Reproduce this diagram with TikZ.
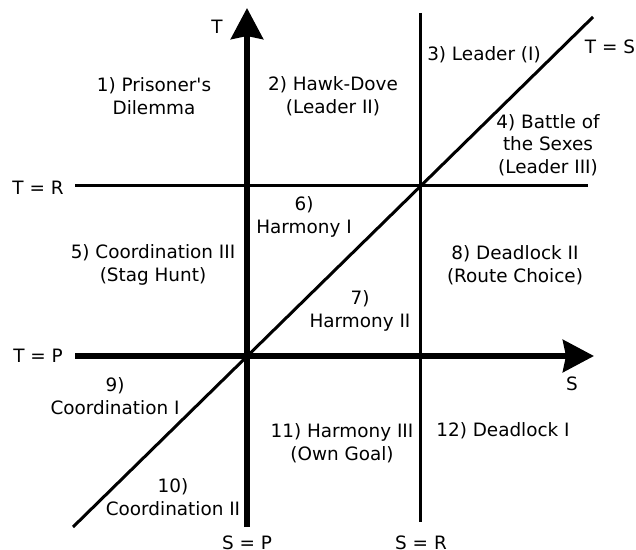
\documentclass[tikz,border=0pt]{standalone}
\usepackage{fontspec}
\setmainfont{DejaVu Sans}
\usetikzlibrary{arrows.meta}
\tikzset{
  lbl/.style={inner sep=0pt, align=center, font=\fontsize{18.4bp}{22.6bp}\selectfont},
  thinline/.style={line width=3bp},
  axis/.style={line width=6bp, -{Stealth[length=31bp,width=32bp,inset=3bp]}},
}
\begin{document}
\begin{tikzpicture}[x=1bp,y=-1bp]
\useasboundingbox (0,0) rectangle (636,550);
% coordinates
\coordinate (trL) at (75,186);
\coordinate (trR) at (588,186);
\coordinate (srT) at (420,13);
\coordinate (srB) at (420,522);
\coordinate (dgB) at (73,527);
\coordinate (dgT) at (593,17);
\coordinate (sxL) at (75,356);
\coordinate (sxR) at (594,356);
\coordinate (tyB) at (247,527);
\coordinate (tyT) at (247,8);
% thin lines
\draw[thinline] (trL) -- (trR);
\draw[thinline] (srT) -- (srB);
\draw[thinline] (dgB) -- (dgT);
% axes
\draw[axis] (sxL) -- (sxR);
\draw[axis] (tyB) -- (tyT);
% labels
\node[lbl] (T) at (217,27) {T};
\node[lbl] (pd) at (154,96) {1) Prisoner\textquotesingle s\\Dilemma};
\node[lbl] (hd) at (333,96) {2) Hawk-Dove\\(Leader II)};
\node[lbl] (l1) at (484,55) {3) Leader (I)};
\node[lbl] (ts) at (610,47) {T = S};
\node[lbl] (bos) at (548,145) {4) Battle of\\the Sexes\\(Leader III)};
\node[lbl] (tr) at (38,188) {T = R};
\node[lbl] (h1) at (304,217) {6)\\Harmony I};
\node[lbl] (c3) at (153,265) {5) Coordination III\\(Stag Hunt)};
\node[lbl] (d2) at (515,265) {8) Deadlock II\\(Route Choice)};
\node[lbl] (h2) at (360,311) {7)\\Harmony II};
\node[lbl] (tp) at (38,356) {T = P};
\node[lbl] (S) at (572,384) {S};
\node[lbl] (c1) at (115,396) {9)\\Coordination I};
\node[lbl] (h3) at (342,443) {11) Harmony III\\(Own Goal)};
\node[lbl] (d1) at (503,431) {12) Deadlock I};
\node[lbl] (c2) at (173,497) {10)\\Coordination II};
\node[lbl] (sp) at (247,543) {S = P};
\node[lbl] (sr) at (421,543) {S = R};
\end{tikzpicture}
\end{document}
